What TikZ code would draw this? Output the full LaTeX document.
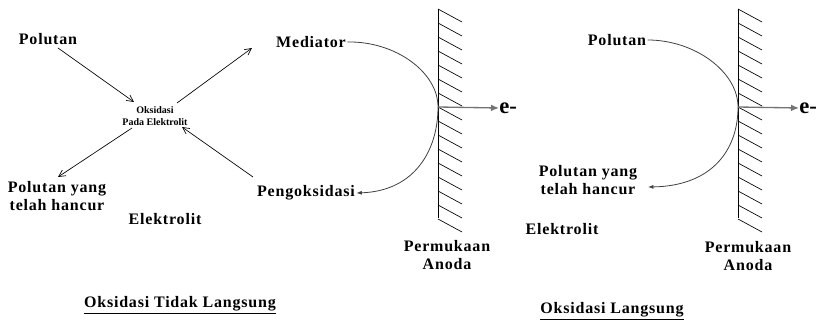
\documentclass[tikz,border=0pt]{standalone}
\usepackage{fontspec}
\setmainfont{Liberation Serif}
\newfontfamily\spaced[LetterSpace=5]{Liberation Serif}
\usetikzlibrary{arrows.meta}
\begin{document}
\begin{tikzpicture}[x=0.75pt,y=-0.75pt,
  lbl/.style={font=\spaced\bfseries\fontsize{12}{14}\selectfont, inner sep=1pt, align=center},
  small/.style={font=\bfseries\fontsize{7.5}{9}\selectfont, inner sep=1pt, align=center},
  big/.style={font=\bfseries\fontsize{17}{18}\selectfont, inner sep=0pt, anchor=west},
  thin/.style={line width=0.5pt},
  openarr/.style={thin, -{Straight Barb[length=5pt,width=5pt]}},
  curvearr/.style={line width=0.6pt, black!75, -{Latex[length=4pt,width=3pt]}},
  earr/.style={line width=1pt, black!55, -{Latex[length=6pt,width=5pt]}},
  wall/.style={line width=0.6pt},
  hatch/.style={line width=0.5pt}]
\useasboundingbox (0,0) rectangle (818,320);

% ---------- Left: Oksidasi Tidak Langsung ----------
\node[lbl] (pol) at (48,39) {Polutan};
\node[small] (ox) at (155,116) {Oksidasi\\Pada Elektrolit};
\node[lbl] (med) at (311,42) {Mediator};
\node[lbl] (peng) at (306,193) {Pengoksidasi};
\node[lbl] (hanc) at (57,196) {Polutan yang\\telah hancur};
\node[lbl] (elek) at (165,219) {Elektrolit};
\node[lbl] (perm) at (447,255) {Permukaan\\Anoda};
\node[lbl] (t1) at (180,305) {\underline{Oksidasi Tidak Langsung}};

\coordinate (a1s) at (58,48);   \coordinate (a1e) at (134,102);
\coordinate (a2s) at (177,103); \coordinate (a2e) at (252,48);
\coordinate (a3s) at (132,128); \coordinate (a3e) at (58,177);
\coordinate (a4s) at (253,177); \coordinate (a4e) at (182,127);
\draw[openarr] (a1s) -- (a1e);
\draw[openarr] (a2s) -- (a2e);
\draw[openarr] (a3s) -- (a3e);
\draw[openarr] (a4s) -- (a4e);

% wall
\coordinate (w1t) at (438,9);
\coordinate (w1b) at (438,218);
\coordinate (w1c) at (438,107);
\draw[wall] (w1t) -- (w1b);
\foreach \k in {0,...,15} {
  \draw[hatch] (438,9+14*\k) -- ++(24,13);
}
\draw[curvearr] (med.east) .. controls (395,41) and (438,72) .. (w1c)
  .. controls (438,150) and (415,191) .. (peng.east);
\node[big] (e1) at (499,108) {e-};
\draw[earr] (w1c) -- (e1.west);

% ---------- Right: Oksidasi Langsung ----------
\node[lbl] (pol2) at (617,40) {Polutan};
\node[lbl] (hanc2) at (588,180) {Polutan yang\\telah hancur};
\node[lbl] (elek2) at (562,229) {Elektrolit};
\node[lbl] (perm2) at (748,256) {Permukaan\\Anoda};
\node[lbl] (t2) at (612,311) {\underline{Oksidasi Langsung}};

\coordinate (w2t) at (738,9);
\coordinate (w2b) at (738,218);
\coordinate (w2c) at (738,107);
\coordinate (h2e) at (648,187);
\draw[wall] (w2t) -- (w2b);
\foreach \k in {0,...,15} {
  \draw[hatch] (738,9+14*\k) -- ++(24,13);
}
\draw[curvearr] (pol2.east) .. controls (695,40) and (738,72) .. (w2c)
  .. controls (738,150) and (712,186) .. (h2e);
\node[big] (e2) at (799,108) {e-};
\draw[earr] (w2c) -- (e2.west);
\end{tikzpicture}
\end{document}
